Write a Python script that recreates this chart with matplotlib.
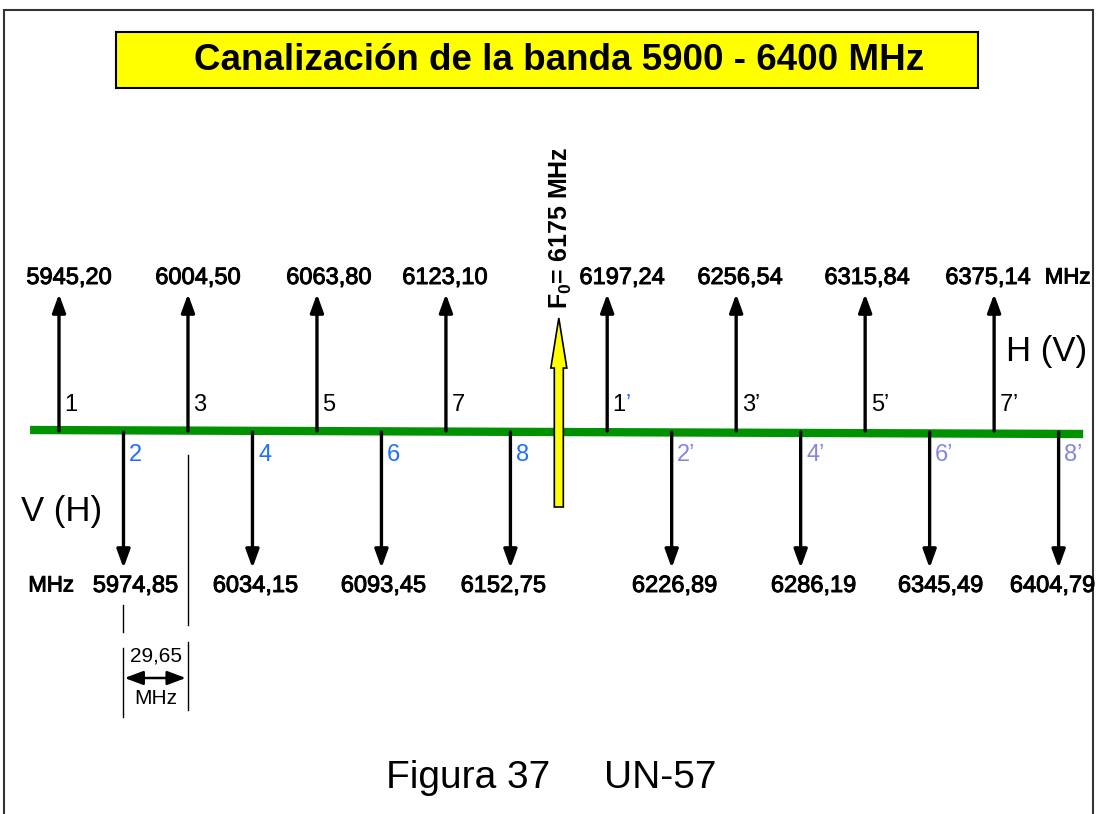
import matplotlib
matplotlib.use('Agg')
from matplotlib import pyplot as plt
from matplotlib import patheffects
from matplotlib.patches import Rectangle, FancyArrow

plt.rcParams['font.family'] = ['Liberation Sans', 'DejaVu Sans']
plt.rcParams['mathtext.fontset'] = 'custom'
plt.rcParams['mathtext.rm'] = 'Liberation Sans'
plt.rcParams['mathtext.bf'] = 'Liberation Sans:bold'

title = 'Canalización de la banda 5900 - 6400 MHz'
caption = 'Figura 37     UN-57'

# go channels (up arrows) and return channels (down arrows), MHz
up_freqs = [5945.20, 6004.50, 6063.80, 6123.10, 6197.24, 6256.54, 6315.84, 6375.14]
up_names = ['1', '3', '5', '7', '1', '3', '5', '7']
up_prime = [False, False, False, False, True, True, True, True]
down_freqs = [5974.85, 6034.15, 6093.45, 6152.75, 6226.89, 6286.19, 6345.49, 6404.79]
down_names = ['2', '4', '6', '8', '2', '4', '6', '8']
down_prime = [False, False, False, False, True, True, True, True]
f0 = 6175
spacing = 29.65

# label nudges (pixels) as laid out in the original drawing
up_dx = [10, 10, 12, -1, 15, 4, 2, -6]
down_dx = [12, 3, 2, -7, 3, 13, 11, -6]

PX = 2.175  # pixels per MHz
W, H = 1099, 814
x0 = up_freqs[0] - 59 / PX

BLUE = '#1f6eff'
LAV = '#8585e0'
heavy = [patheffects.withStroke(linewidth=0.7, foreground='black')]


def fmt(f):
    return f'{f:.2f}'.replace('.', ',')


fig = plt.figure(figsize=(W / 100, H / 100), dpi=100)
ax = fig.add_axes([0, 0, 1, 1])
ax.set_xlim(x0, x0 + W / PX)
ax.set_ylim(H, 0)
ax.axis('off')

# frame and title box
ax.add_patch(Rectangle((4 / W, -0.02), 1089 / W, 1.02 - 10 / H, transform=ax.transAxes,
                       fc='none', ec='#333333', lw=1.5))
ax.add_patch(Rectangle((116 / W, 1 - 88 / H), 862 / W, 56 / H, transform=ax.transAxes,
                       fc='#ffff00', ec='black', lw=1.5))
ax.text(559 / W, 1 - 61 / H, title, transform=ax.transAxes, ha='center', va='center',
        fontsize=26.5, fontweight='bold')

# green band line
ax.plot([up_freqs[0] - 13.3, down_freqs[-1] + 11.3], [430, 434], color='#009200', lw=6,
        solid_capstyle='butt', zorder=2)

arrow = dict(arrowstyle='-|>,head_length=0.55,head_width=0.2', color='black', lw=2.4,
             shrinkA=0, shrinkB=0, mutation_scale=20)

for f, name, pr, dx in zip(up_freqs, up_names, up_prime, up_dx):
    ax.annotate('', xy=(f, 294), xytext=(f, 431), arrowprops=arrow, zorder=3)
    ax.annotate(fmt(f), (f, 278), xytext=(dx * 0.72, 0), textcoords='offset points',
                ha='center', va='center', fontsize=17, path_effects=heavy)
    ax.annotate(name, (f, 405), xytext=(4, 0), textcoords='offset points',
                ha='left', va='center', fontsize=17)
    if pr:
        ax.annotate('’', (f, 405), xytext=(4 + 9.45, 0), textcoords='offset points',
                    ha='left', va='center', fontsize=17,
                    color=BLUE if name == '1' else 'black')

for f, name, pr, dx in zip(down_freqs, down_names, down_prime, down_dx):
    ax.annotate('', xy=(f, 568), xytext=(f, 432), arrowprops=arrow, zorder=3)
    ax.annotate(fmt(f), (f, 586), xytext=(dx * 0.72, 0), textcoords='offset points',
                ha='center', va='center', fontsize=17, path_effects=heavy)
    ax.annotate(name + ('’' if pr else ''), (f, 455), xytext=(4, 0), textcoords='offset points',
                ha='left', va='center', fontsize=17, color=LAV if pr else BLUE)

ax.annotate('MHz', (up_freqs[-1], 278), xytext=(53, 0), textcoords='offset points',
            ha='center', va='center', fontsize=16, path_effects=heavy)
ax.annotate('MHz', (down_freqs[0], 586), xytext=(-52, 0), textcoords='offset points',
            ha='center', va='center', fontsize=16, path_effects=heavy)

# polarisation labels
ax.text(1047 / W, 1 - 352 / H, 'H (V)', transform=ax.transAxes, ha='center', va='center',
        fontsize=25)
ax.text(62 / W, 1 - 511 / H, 'V (H)', transform=ax.transAxes, ha='center', va='center',
        fontsize=25)

# centre frequency
ax.add_patch(FancyArrow(f0, 507, 0, -189, width=9 / PX, head_width=16 / PX, head_length=50,
                        length_includes_head=True, fc='#ffff00', ec='black', lw=1.2, zorder=4))
ax.text(f0 + 1, 228, r'$\mathbf{F_0}$= 6175 MHz', rotation=90, ha='center', va='center',
        fontsize=18, fontweight='bold')

# channel spacing marker
fa, fb = down_freqs[0], down_freqs[0] + spacing
ax.plot([fa, fa], [605, 632], color='black', lw=1)
ax.plot([fa, fa], [648, 717], color='black', lw=1)
ax.plot([fb, fb], [455, 625], color='black', lw=1)
ax.plot([fb, fb], [642, 710], color='black', lw=1)
ax.annotate('', xy=(fb - 1, 678), xytext=(fa + 0.5, 678),
            arrowprops=dict(arrowstyle='<|-|>,head_length=0.8,head_width=0.3', color='black',
                            lw=1.8, shrinkA=0, shrinkB=0, mutation_scale=14))
ax.text((fa + fb) / 2, 656, fmt(spacing), ha='center', va='center', fontsize=15)
ax.text((fa + fb) / 2, 698, 'MHz', ha='center', va='center', fontsize=15)

ax.text(551 / W, 1 - 778 / H, caption, transform=ax.transAxes, ha='center', va='center',
        fontsize=28)

fig.savefig('out.png', dpi=100)
